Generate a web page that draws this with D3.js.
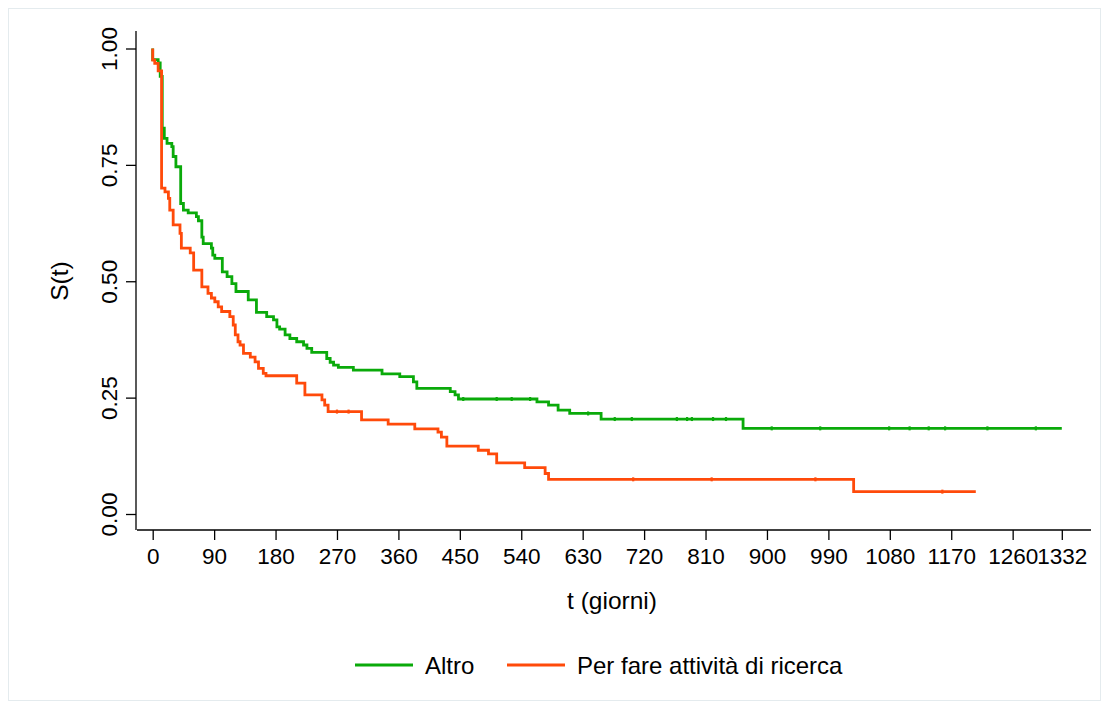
<!DOCTYPE html>
<html>
<head>
<meta charset="utf-8">
<script src="https://d3js.org/d3.v7.min.js"></script>
<style>
  body { margin: 0; background: #fff; }
  text { font-family: "Liberation Sans", Arial, sans-serif; fill: #000; }
</style>
</head>
<body>
<svg width="1110" height="717"></svg>
<script>
// Kaplan-Meier estimates: time (giorni) of each step, S(t) after it
var altroT = [0, 0, 8, 11, 14, 17, 21, 28, 30, 34, 41, 45, 52, 64, 67, 72, 74, 86, 88, 91, 102, 109, 116, 122, 140, 152, 167, 177, 182, 186, 194, 201, 211, 221, 226, 233, 255, 260, 265, 272, 294, 336, 362, 382, 387, 436, 443, 448, 563, 580, 594, 611, 657, 865, 1332];
var altroS = [1, 0.976, 0.969, 0.94, 0.829, 0.807, 0.796, 0.789, 0.768, 0.746, 0.667, 0.653, 0.647, 0.639, 0.630, 0.595, 0.581, 0.571, 0.556, 0.549, 0.52, 0.51, 0.495, 0.478, 0.46, 0.433, 0.424, 0.417, 0.402, 0.397, 0.385, 0.377, 0.370, 0.363, 0.356, 0.347, 0.334, 0.326, 0.320, 0.315, 0.309, 0.301, 0.295, 0.284, 0.270, 0.263, 0.256, 0.247, 0.241, 0.234, 0.223, 0.216, 0.204, 0.184, 0.184];
var altroCens = [455, 504, 526, 553, 638, 677, 702, 768, 783, 790, 821, 840, 907, 978, 1079, 1109, 1137, 1161, 1223, 1294];

var ricercaT = [0, 0, 3, 8, 13, 18, 23, 25, 30, 40, 42, 55, 60, 72, 81, 86, 91, 96, 101, 113, 118, 121, 125, 128, 133, 143, 150, 155, 162, 166, 211, 223, 248, 252, 257, 306, 345, 384, 418, 423, 431, 477, 492, 504, 545, 575, 580, 1027, 1206];
var ricercaS = [1, 0.975, 0.968, 0.952, 0.70, 0.692, 0.678, 0.653, 0.621, 0.603, 0.571, 0.561, 0.524, 0.488, 0.474, 0.464, 0.456, 0.445, 0.435, 0.424, 0.406, 0.385, 0.370, 0.363, 0.345, 0.337, 0.327, 0.313, 0.302, 0.297, 0.281, 0.256, 0.245, 0.234, 0.220, 0.202, 0.193, 0.183, 0.176, 0.165, 0.146, 0.137, 0.129, 0.110, 0.0995, 0.087, 0.0745, 0.048, 0.048];
var ricercaCens = [270, 287, 704, 819, 971, 1157];

var xTicks = [0, 90, 180, 270, 360, 450, 540, 630, 720, 810, 900, 990, 1080, 1170, 1260, 1332];
var yTicks = [0, 0.25, 0.5, 0.75, 1];
var groups = ["Altro", "Per fare attività di ricerca"];
var colors = ["#0aaa0a", "#ff4a0a"];

var svg = d3.select("svg");

// light frame around the graph
svg.append("rect")
    .attr("x", 8.5).attr("y", 8.5)
    .attr("width", 1092).attr("height", 692)
    .attr("fill", "none")
    .attr("stroke", "#e4ebee");

var x = d3.scaleLinear().domain([0, 1332]).range([152.7, 1061.8]);
var y = d3.scaleLinear().domain([0, 1]).range([514, 48.5]);

// axes
var xAxis = svg.append("g").attr("transform", "translate(0,530)")
    .call(d3.axisBottom(x).tickValues(xTicks).tickSize(10).tickPadding(5).tickFormat(d3.format("d")));
xAxis.select(".domain").attr("d", "M137,0H1091");
xAxis.selectAll("line").attr("stroke", "#000").attr("stroke-width", 1.3);
xAxis.selectAll("text").style("font-size", "22.5px").attr("dy", "0.71em").attr("y", 18)
    .style("font-family", "'Liberation Sans', Arial, sans-serif");

var yAxis = svg.append("g").attr("transform", "translate(136,0)")
    .call(d3.axisLeft(y).tickValues(yTicks).tickSize(10).tickFormat(d3.format(".2f")));
yAxis.select(".domain").attr("d", "M0,31V530");
yAxis.selectAll("line").attr("stroke", "#000").attr("stroke-width", 1.3);
yAxis.selectAll("text")
    .attr("x", null).attr("dy", null)
    .attr("text-anchor", "middle")
    .attr("transform", "translate(-19,0) rotate(-90)")
    .style("font-size", "22.5px")
    .style("font-family", "'Liberation Sans', Arial, sans-serif");
svg.selectAll(".domain").attr("stroke", "#000").attr("stroke-width", 1.3);

// axis titles
svg.append("text")
    .attr("x", 612).attr("y", 609)
    .attr("text-anchor", "middle")
    .style("font-size", "24.5px")
    .text("t (giorni)");
svg.append("text")
    .attr("transform", "translate(68,281) rotate(-90)")
    .attr("text-anchor", "middle")
    .style("font-size", "24.5px")
    .text("S(t)");

// survival curves
var line = d3.line()
    .x(function(d) { return x(d[0]); })
    .y(function(d) { return y(d[1]); })
    .curve(d3.curveStepAfter);

var series = [
    {t: altroT, s: altroS, cens: altroCens},
    {t: ricercaT, s: ricercaS, cens: ricercaCens}
];

series.forEach(function(sr, i) {
    var pts = sr.t.map(function(t, j) { return [t, sr.s[j]]; });
    svg.append("path")
        .datum(pts)
        .attr("fill", "none")
        .attr("stroke", colors[i])
        .attr("stroke-width", 2.8)
        .attr("d", line);

    // censoring marks
    var bis = d3.bisector(function(d) { return d; }).right;
    svg.append("g").selectAll("line")
        .data(sr.cens)
        .enter().append("line")
        .attr("x1", function(d) { return x(d); })
        .attr("x2", function(d) { return x(d); })
        .attr("y1", function(d) { return y(sr.s[bis(sr.t, d) - 1]) - 2; })
        .attr("y2", function(d) { return y(sr.s[bis(sr.t, d) - 1]) + 2; })
        .attr("stroke", colors[i])
        .attr("stroke-width", 2.2);
});

// legend
var legX = [355, 507];
var leg = svg.append("g");
groups.forEach(function(g, i) {
    leg.append("line")
        .attr("x1", legX[i]).attr("x2", legX[i] + 58)
        .attr("y1", 665).attr("y2", 665)
        .attr("stroke", colors[i]).attr("stroke-width", 2.8);
    leg.append("text")
        .attr("x", legX[i] + 70).attr("y", 674)
        .style("font-size", "24px")
        .text(g);
});
</script>
</body>
</html>
